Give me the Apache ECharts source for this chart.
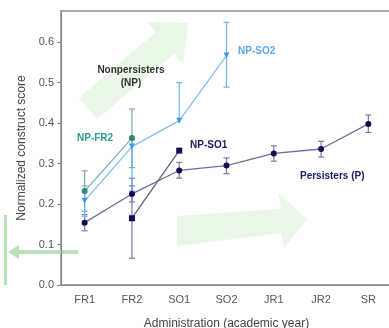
<!DOCTYPE html>
<html>
<head>
<meta charset="utf-8">
<script src="https://cdn.jsdelivr.net/npm/echarts@6/dist/echarts.min.js"></script>
<style>
  html, body { margin: 0; padding: 0; background: #fff; }
  #main { width: 389px; height: 328px; }
</style>
</head>
<body>
<div id="main"></div>
<script>
// categories (academic year administrations)
var years = ['FR1', 'FR2', 'SO1', 'SO2', 'JR1', 'JR2', 'SR'];

// Persisters (P)
var pMean = [0.154, 0.225, 0.283, 0.295, 0.325, 0.336, 0.398];
var pLow  = [0.134, 0.205, 0.264, 0.275, 0.306, 0.316, 0.377];
var pHigh = [0.174, 0.245, 0.303, 0.314, 0.344, 0.355, 0.420];

// NP-SO1
var so1Mean = [null, 0.165, 0.332, null, null, null, null];
var so1Low  = [null, 0.066, null, null, null, null, null];
var so1High = [null, 0.264, null, null, null, null, null];

// NP-FR2
var fr2Mean = [0.232, 0.363, null, null, null, null, null];
var fr2Low  = [0.182, 0.290, null, null, null, null, null];
var fr2High = [0.282, 0.435, null, null, null, null, null];

// NP-SO2
var so2Mean = [0.208, 0.342, 0.406, 0.567, null, null, null];
var so2Low  = [0.170, 0.232, null, 0.489, null, null, null];
var so2High = [0.245, 0.360, 0.500, 0.649, null, null, null];

var yTicks = [0, 0.1, 0.2, 0.3, 0.4, 0.5, 0.6];

var FONT = 'Liberation Sans, Arial, sans-serif';

function errData(mean, low, high) {
  var out = [];
  for (var i = 0; i < mean.length; i++) {
    if (mean[i] == null) continue;
    var lo = low[i] == null ? mean[i] : low[i];
    var hi = high[i] == null ? mean[i] : high[i];
    out.push([i, lo, hi, low[i] == null ? 0 : 1, high[i] == null ? 0 : 1]);
  }
  return out;
}

function errSeries(mean, low, high, color) {
  return {
    type: 'custom',
    z: 1,
    silent: true,
    data: errData(mean, low, high),
    renderItem: function (params, api) {
      var x = api.value(0);
      var a = api.coord([x, api.value(1)]);
      var b = api.coord([x, api.value(2)]);
      var cap = 3;
      var kids = [{
        type: 'line',
        shape: { x1: a[0], y1: a[1], x2: b[0], y2: b[1] },
        style: { stroke: color, lineWidth: 1.2 }
      }];
      if (api.value(3)) kids.push({
        type: 'line',
        shape: { x1: a[0] - cap, y1: a[1], x2: a[0] + cap, y2: a[1] },
        style: { stroke: color, lineWidth: 1.2 }
      });
      if (api.value(4)) kids.push({
        type: 'line',
        shape: { x1: b[0] - cap, y1: b[1], x2: b[0] + cap, y2: b[1] },
        style: { stroke: color, lineWidth: 1.2 }
      });
      return { type: 'group', children: kids };
    }
  };
}

function lineSeries(name, mean, lineColor, markColor, symbol, rot) {
  return {
    name: name,
    type: 'line',
    z: 3,
    data: mean,
    symbol: symbol,
    symbolSize: 6,
    symbolRotate: rot || 0,
    connectNulls: false,
    lineStyle: { color: lineColor, width: 1.3 },
    itemStyle: { color: markColor, borderWidth: 0 }
  };
}

var green = '#e8f7e6';
var green2 = '#b9e0b7';

var myChart = echarts.init(document.getElementById('main'));

var option = {
  animation: false,
  backgroundColor: '#fff',
  grid: {
    left: 61, top: 11, right: -3, bottom: 43,
    outerBoundsMode: 'none',
    containLabel: false,
    show: true, borderColor: '#aaa', borderWidth: 2, backgroundColor: 'transparent'
  },
  xAxis: {
    type: 'category',
    data: years,
    boundaryGap: true,
    name: 'Administration (academic year)',
    nameLocation: 'middle',
    nameGap: 33,
    nameTextStyle: { fontFamily: FONT, fontSize: 12, color: '#444' },
    axisLine: { lineStyle: { color: '#888', width: 1.2 } },
    axisTick: { alignWithLabel: true, length: 4, lineStyle: { color: '#888' } },
    axisLabel: { fontFamily: FONT, fontSize: 11, color: '#555', margin: 9 }
  },
  yAxis: {
    type: 'value',
    min: 0,
    max: 0.677,
    interval: 0.1,
    name: 'Normalized construct score',
    nameLocation: 'middle',
    nameGap: 27,
    nameTextStyle: { fontFamily: FONT, fontSize: 12, color: '#444' },
    axisLine: { show: true, lineStyle: { color: '#888', width: 1.2 } },
    axisTick: { show: true, length: 4, lineStyle: { color: '#888' } },
    splitLine: { show: false },
    axisLabel: {
      fontFamily: FONT, fontSize: 11, color: '#555', margin: 7,
      showMaxLabel: false,
      formatter: function (v) {
        return yTicks.indexOf(Math.round(v * 10) / 10) >= 0 ? v.toFixed(1) : '';
      }
    }
  },
  graphic: [
    // decorative arrows
    {
      type: 'polygon', z: -10, silent: true,
      shape: { points: [[79, 98], [156, 32], [147, 22], [188, 23], [183, 64], [174, 54], [97, 119]] },
      style: { fill: green }
    },
    {
      type: 'polygon', z: -10, silent: true,
      shape: { points: [[177, 216], [281, 209], [278, 193], [307, 219], [284, 248], [281, 233], [177, 246]] },
      style: { fill: green }
    },
    {
      type: 'rect', silent: true,
      shape: { x: 4, y: 215, width: 3, height: 70 },
      style: { fill: green2 }
    },
    {
      type: 'rect', silent: true,
      shape: { x: 12, y: 250, width: 66, height: 4 },
      style: { fill: green2 }
    },
    {
      type: 'polygon', silent: true,
      shape: { points: [[8, 252], [19, 245], [19, 259]] },
      style: { fill: green2 }
    },
    // annotations
    {
      type: 'text', x: 238, y: 46,
      style: { text: 'NP-SO2', fill: '#5aaaf0', font: 'bold 10px ' + FONT }
    },
    {
      type: 'text', x: 131, y: 64,
      style: { text: 'Nonpersisters\n(NP)', fill: '#333', font: 'bold 10px ' + FONT, align: 'center', lineHeight: 13 }
    },
    {
      type: 'text', x: 77, y: 133,
      style: { text: 'NP-FR2', fill: '#2e9a8a', font: 'bold 10px ' + FONT }
    },
    {
      type: 'text', x: 190, y: 140,
      style: { text: 'NP-SO1', fill: '#1a1a66', font: 'bold 10px ' + FONT }
    },
    {
      type: 'text', x: 300, y: 171,
      style: { text: 'Persisters (P)', fill: '#1a1a66', font: 'bold 10px ' + FONT }
    }
  ],
  series: [
    errSeries(pMean, pLow, pHigh, '#7a7aa6'),
    errSeries(so1Mean, so1Low, so1High, '#7a7aa6'),
    errSeries(fr2Mean, fr2Low, fr2High, '#7fa89c'),
    errSeries(so2Mean, so2Low, so2High, '#6ab2f2'),
    lineSeries('Persisters (P)', pMean, '#6e6e9e', '#0e0e50', 'circle'),
    lineSeries('NP-SO1', so1Mean, '#5e5e8e', '#0e0e50', 'rect'),
    lineSeries('NP-FR2', fr2Mean, '#7fb0a2', '#2e8b78', 'circle'),
    lineSeries('NP-SO2', so2Mean, '#86bdee', '#3a9ae8', 'triangle', 180)
  ]
};

myChart.setOption(option);
</script>
</body>
</html>
